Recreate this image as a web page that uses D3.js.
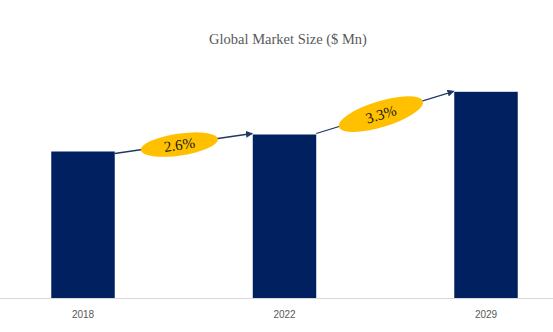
<!DOCTYPE html>
<html><head><meta charset="utf-8">
<script src="https://cdn.jsdelivr.net/npm/d3@7"></script>
<style>html,body{margin:0;padding:0;background:#fff;}svg{display:block;}
.serif{font-family:"Liberation Serif","Times New Roman",serif;}
.sans{font-family:"Liberation Sans",Arial,sans-serif;}</style>
</head><body>
<svg id="c" width="553" height="332"></svg>
<script>
const years = ["2018", "2022", "2029"];
const values = [1470, 1640, 2067];
const cagrLabels = ["2.6%", "3.3%"];
const title = "Global Market Size ($ Mn)";

const W = 553, H = 332, baseY = 298.5;
const svg = d3.select("#c");

const x = d3.scaleBand().domain(years).range([-17.75, 586.75]).paddingInner(0.685).paddingOuter(0.3425);
const y = d3.scaleLinear().domain([0, 2985]).range([baseY, 0]);

svg.append("defs").append("marker")
  .attr("id", "ah").attr("viewBox", "0 0 10 10").attr("refX", 9).attr("refY", 5)
  .attr("markerWidth", 7).attr("markerHeight", 7).attr("markerUnits", "userSpaceOnUse")
  .attr("orient", "auto")
  .append("path").attr("d", "M0,0 L10,5 L0,10 Z").attr("fill", "#1f3864");

svg.append("text").attr("class", "serif").attr("x", 288).attr("y", 44).attr("text-anchor", "middle")
  .attr("font-size", 14.5).attr("fill", "#595959")
  .text(title);

svg.selectAll("rect.bar").data(years).join("rect").attr("class", "bar")
  .attr("x", d => x(d)).attr("width", x.bandwidth())
  .attr("y", (d, i) => y(values[i])).attr("height", (d, i) => baseY - y(values[i]))
  .attr("fill", "#002060");

// axis
const ax = svg.append("g").attr("transform", `translate(0,${baseY})`)
  .call(d3.axisBottom(x).tickSize(0).tickPadding(12));
ax.select(".domain").remove();
ax.append("line").attr("x1", 0).attr("x2", W).attr("y1", 0).attr("y2", 0).attr("stroke", "#d9d9d9").attr("stroke-width", 1.2);
ax.selectAll(".tick text").attr("class", "sans").attr("font-family", null).attr("font-size", 10).attr("fill", "#595959");

// arrows + ellipses
const ellSize = [[39, 11], [44, 13]];
for (let i = 0; i < years.length - 1; i++) {
  const x1 = x(years[i]) + x.bandwidth(), y1 = y(values[i]) - 2 + (i === 0 ? 4 : 1);
  const x2 = x(years[i + 1]) - 0.5, y2 = y(values[i + 1]) - (i === 0 ? 1 : 0.5);
  svg.append("line").attr("x1", x1).attr("y1", y1).attr("x2", x2).attr("y2", y2)
    .attr("stroke", "#1f3864").attr("stroke-width", 1.3).attr("marker-end", "url(#ah)");
  const ang = Math.atan2(y2 - y1, x2 - x1) * 180 / Math.PI;
  const t = 0.47;
  const cx = x1 + (x2 - x1) * t, cy = y1 + (y2 - y1) * t + 0.5;
  const g = svg.append("g").attr("transform", `translate(${cx},${cy}) rotate(${ang})`);
  g.append("ellipse").attr("rx", ellSize[i][0]).attr("ry", ellSize[i][1]).attr("fill", "#ffc000");
  g.append("text").attr("class", "serif").attr("text-anchor", "middle").attr("dy", "0.35em")
    .attr("font-size", 15).attr("fill", "#1a1a1a")
    .text(cagrLabels[i]);
}
</script>
</body></html>
